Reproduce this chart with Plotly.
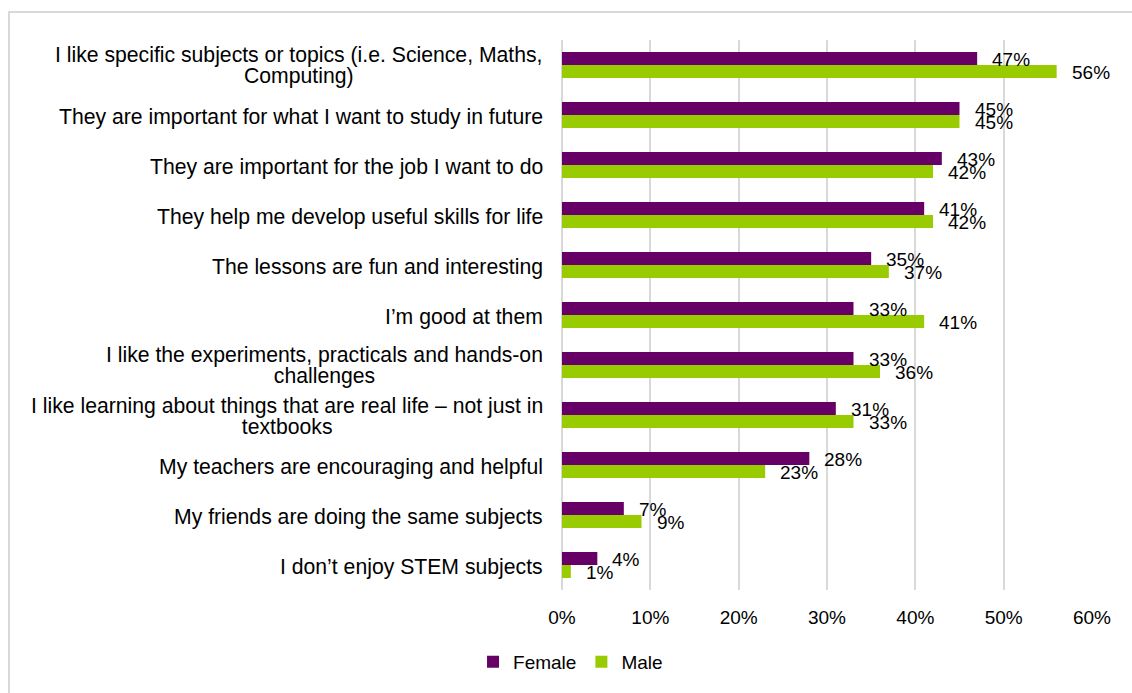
import plotly.graph_objects as go

# Survey reasons, top to bottom
categories = [
    "I like specific subjects or topics (i.e. Science, Maths,<br>Computing)",
    "They are important for what I want to study in future",
    "They are important for the job I want to do",
    "They help me develop useful skills for life",
    "The lessons are fun and interesting",
    "I’m good at them",
    "I like the experiments, practicals and hands-on<br>challenges",
    "I like learning about things that are real life – not just in<br>textbooks",
    "My teachers are encouraging and helpful",
    "My friends are doing the same subjects",
    "I don’t enjoy STEM subjects",
]
female = [47, 45, 43, 41, 35, 33, 33, 31, 28, 7, 4]
male = [56, 45, 42, 42, 37, 41, 36, 33, 23, 9, 1]
x_ticks = [0, 10, 20, 30, 40, 50, 60]
x_tick_labels = ["0%", "10%", "20%", "30%", "40%", "50%", "60%"]

PURPLE = "#660066"
GREEN = "#99CC00"
GRID = "#d9d9d9"
FONT = "Liberation Sans, Arial, sans-serif"

W, H = 1132, 693
M_L, M_R, M_T, M_B = 562, 40, 40, 103
BARGAP = 0.48
CAT_SIZE = 21.2      # glyph size of the category labels
CAT_LINE_BASE = 16   # base size that sets their line spacing

fig = go.Figure()
fig.add_trace(go.Bar(name="Female", y=categories, x=female, orientation="h",
                     marker=dict(color=PURPLE, line=dict(width=0))))
fig.add_trace(go.Bar(name="Male", y=categories, x=male, orientation="h",
                     marker=dict(color=GREEN, line=dict(width=0))))

# pixel offset of each bar centre from its category centre
plot_h = H - M_T - M_B
cat_px = plot_h / len(categories)
bar_off = (1 - BARGAP) / 4 * cat_px

annotations = []
for cat, f, m in zip(categories, female, male):
    annotations.append(dict(x=f, y=cat, xref="x", yref="y", text=f"{f}%",
                            showarrow=False, xanchor="left", yanchor="middle",
                            xshift=13, yshift=bar_off - 1,
                            font=dict(family=FONT, size=19, color="#000")))
    annotations.append(dict(x=m, y=cat, xref="x", yref="y", text=f"{m}%",
                            showarrow=False, xanchor="left", yanchor="middle",
                            xshift=13, yshift=-bar_off - 1,
                            font=dict(family=FONT, size=19, color="#000")))
    # category label; multi-line labels are centred line by line
    lines = cat.split("<br>")
    styled = "<br>".join(
        f'<span style="font-size:{CAT_SIZE}px">{line}</span>' for line in lines)
    annotations.append(dict(x=0, y=cat, xref="paper", yref="y", text=styled,
                            showarrow=False, xanchor="right", yanchor="middle",
                            xshift=-17, yshift=-1.5 if len(lines) == 1 else -0.5,
                            align="center",
                            font=dict(family=FONT, size=CAT_LINE_BASE,
                                      color="#000")))

plot_w = W - M_L - M_R
fig.update_layout(
    width=W, height=H,
    margin=dict(l=M_L, r=M_R, t=M_T, b=M_B),
    paper_bgcolor="white", plot_bgcolor="white",
    barmode="group", bargap=BARGAP, bargroupgap=0,
    font=dict(family=FONT, size=19, color="#000"),
    xaxis=dict(range=[0, 60], tickvals=x_ticks, ticktext=x_tick_labels,
               showgrid=True, gridcolor=GRID, gridwidth=2,
               zeroline=True, zerolinecolor=GRID, zerolinewidth=2,
               showline=False, ticks="", ticklabelstandoff=14,
               tickfont=dict(family=FONT, size=19, color="#000")),
    yaxis=dict(autorange="reversed", showticklabels=False, showgrid=False,
               zeroline=False, showline=False, ticks=""),
    legend=dict(orientation="h", xref="container", yref="container",
                x=0.504, y=0.045, xanchor="center", yanchor="middle",
                font=dict(family=FONT, size=19, color="#000"),
                itemwidth=30, traceorder="normal"),
    annotations=annotations,
    shapes=[dict(type="rect", xref="paper", yref="paper",
                 x0=(9 - M_L) / plot_w, x1=2.0,
                 y0=-2.0, y1=(H - M_B - 12) / plot_h,
                 line=dict(color=GRID, width=2), fillcolor="rgba(0,0,0,0)",
                 layer="below")],
)

fig.write_html("out.html")
